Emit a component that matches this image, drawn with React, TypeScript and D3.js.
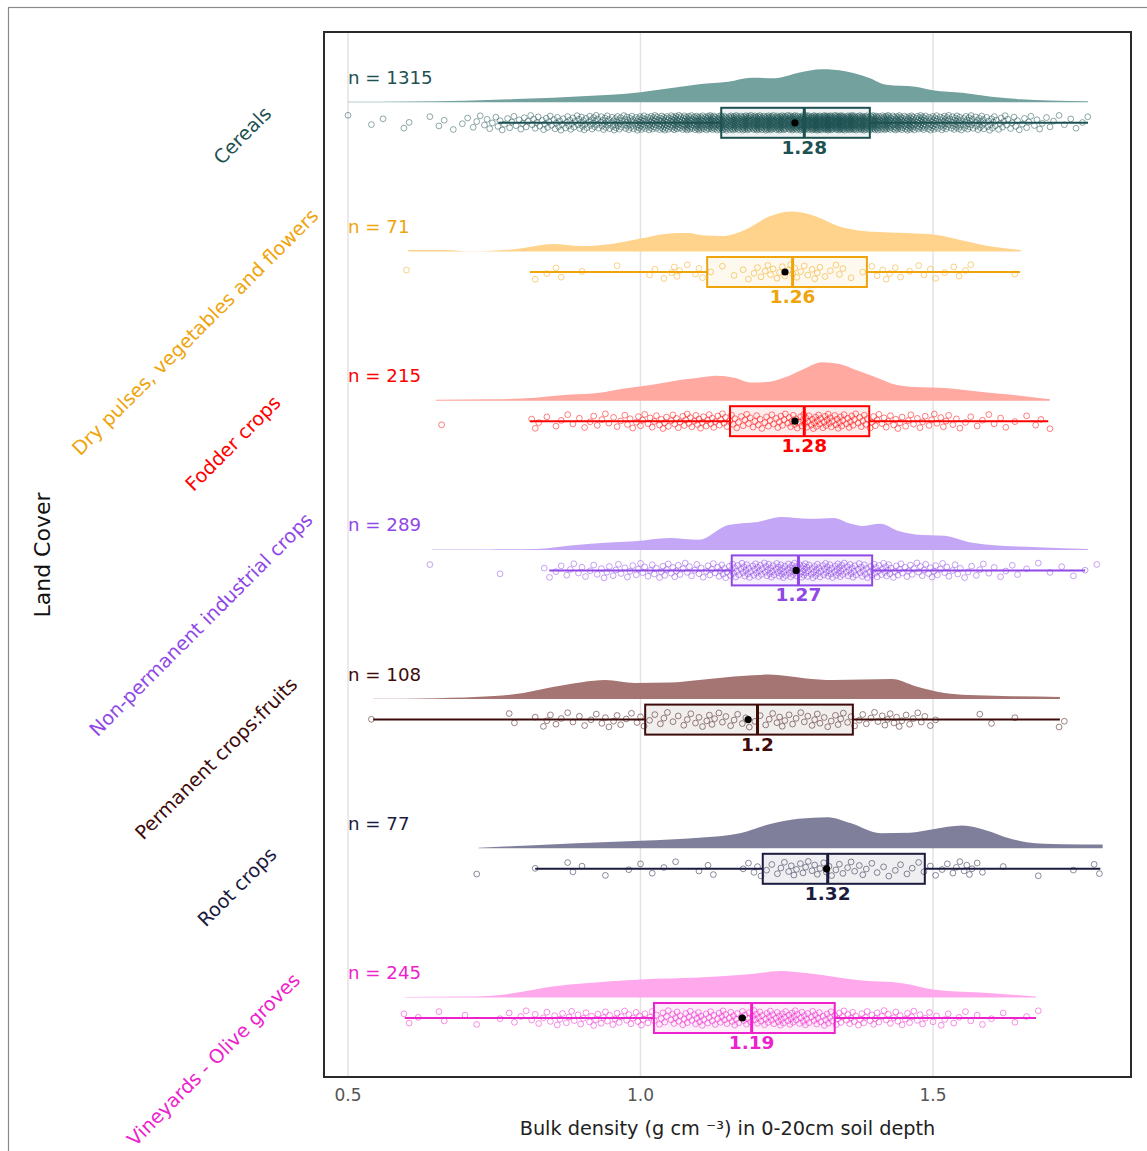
import React, { useEffect, useRef } from "react";
import * as d3 from "d3";

// Land-cover classes, top to bottom
const categories = [
  "Cereals",
  "Dry pulses, vegetables and flowers",
  "Fodder crops",
  "Non-permanent industrial crops",
  "Permanent crops:fruits",
  "Root crops",
  "Vineyards - Olive groves",
];

// Box-plot statistics (g cm-3)
const q1Values = [1.138, 1.114, 1.153, 1.156, 1.008, 1.209, 1.023];
const medianValues = [1.28, 1.26, 1.28, 1.27, 1.2, 1.32, 1.19];
const q3Values = [1.392, 1.387, 1.391, 1.396, 1.363, 1.486, 1.332];
const whiskerLow = [0.757, 0.811, 0.811, 0.844, 0.543, 0.82, 0.597];
const whiskerHigh = [1.765, 1.649, 1.697, 1.76, 1.717, 1.786, 1.676];
const meanValues = [1.264, 1.247, 1.264, 1.266, 1.184, 1.318, 1.174];

// Frequency tables of the samples: counts per 0.02 class starting at 0.50
const binStart = 0.5;
const binStep = 0.02;
const cerealsCounts = [
  1, 0, 1, 1, 0, 2, 0, 1, 2, 1, 2, 3, 4, 5, 5, 6, 7, 8, 9, 10, 12, 13, 14, 16, 17, 21, 23, 26, 29, 32, 35,
  37, 39, 41, 44, 46, 47, 48, 50, 57, 61, 63, 60, 57, 50, 44, 39, 34, 31, 27, 22, 20, 19, 16, 14, 11, 8, 6,
  5, 4, 3, 2, 2, 2,
];
const dryPulsesCounts = [
  0, 0, 0, 0, 0, 1, 0, 0, 0, 0, 0, 0, 0, 0, 0, 0, 1, 1, 2, 0, 1, 0, 0, 1, 0, 0, 2, 1, 4, 1, 3, 1, 1, 1, 2,
  3, 4, 4, 5, 3, 4, 2, 3, 1, 1, 2, 3, 2, 1, 2, 2, 1, 2, 2, 0, 0, 0, 1,
];
const fodderCounts = [
  0, 0, 0, 0, 0, 0, 0, 0, 1, 0, 0, 0, 0, 0, 0, 0, 3, 1, 2, 2, 2, 3, 3, 3, 4, 5, 5, 6, 6, 7, 7, 7, 7, 6, 6,
  6, 6, 7, 8, 10, 10, 10, 9, 8, 7, 6, 5, 5, 4, 4, 4, 4, 3, 2, 2, 2, 2, 1, 1, 2, 1,
];
const industrialCounts = [
  0, 0, 0, 0, 0, 0, 0, 1, 0, 0, 0, 0, 0, 1, 0, 0, 0, 2, 2, 3, 3, 3, 4, 4, 4, 5, 5, 6, 6, 5, 5, 6, 8, 10,
  11, 11, 12, 13, 14, 14, 12, 12, 13, 11, 10, 10, 10, 7, 6, 6, 6, 5, 4, 3, 3, 2, 2, 2, 1, 1, 1, 1, 1, 1, 1,
];
const fruitsCounts = [
  0, 0, 1, 0, 0, 0, 0, 0, 0, 0, 0, 0, 0, 0, 2, 0, 1, 3, 2, 2, 2, 2, 3, 3, 2, 3, 2, 3, 2, 3, 3, 4, 3, 3, 3,
  2, 3, 4, 3, 3, 4, 3, 4, 3, 3, 3, 4, 4, 3, 3, 2, 0, 0, 0, 1, 1, 0, 1, 0, 0, 0, 2,
];
const rootCounts = [
  0, 0, 0, 0, 0, 0, 0, 0, 0, 0, 0, 1, 0, 0, 0, 0, 1, 0, 0, 2, 1, 0, 1, 0, 1, 1, 1, 1, 1, 0, 1, 2, 0, 0, 2,
  3, 2, 3, 4, 4, 4, 4, 3, 3, 3, 2, 2, 2, 2, 2, 2, 2, 3, 4, 2, 0, 1, 0, 0, 1, 0, 0, 1, 0, 2,
];
const vineyardsCounts = [
  0, 0, 0, 0, 0, 2, 1, 0, 2, 0, 1, 1, 0, 1, 2, 2, 3, 3, 4, 4, 4, 5, 5, 5, 5, 6, 5, 6, 7, 7, 8, 7, 8, 8, 8,
  9, 9, 10, 10, 9, 8, 8, 7, 7, 6, 6, 5, 5, 5, 4, 3, 3, 2, 2, 2, 1, 1, 1, 1, 1,
];
const pointCounts = [
  cerealsCounts,
  dryPulsesCounts,
  fodderCounts,
  industrialCounts,
  fruitsCounts,
  rootCounts,
  vineyardsCounts,
];

// Kernel density estimates: [bulk density, density]
const cerealsDensity: [number, number][] = [
  [0.5, 0.03], [0.6, 0.05], [0.7, 0.09], [0.8, 0.22], [0.9, 0.38], [1.0, 0.63], [1.05, 0.88], [1.1, 1.13],
  [1.15, 1.28], [1.19, 1.53], [1.23, 1.5], [1.27, 1.84], [1.31, 2.06], [1.35, 1.94], [1.39, 1.53],
  [1.42, 1.09], [1.47, 0.97], [1.5, 0.75], [1.55, 0.59], [1.6, 0.34], [1.65, 0.19], [1.7, 0.11], [1.765, 0.06],
];
const dryPulsesDensity: [number, number][] = [
  [0.603, 0.09], [0.65, 0.09], [0.685, 0.06], [0.7, 0.01], [0.72, 0.01], [0.74, 0.03], [0.78, 0.13],
  [0.8, 0.22], [0.85, 0.47], [0.9, 0.34], [0.95, 0.47], [1.0, 0.81], [1.05, 1.13], [1.08, 1.16], [1.11, 1.0],
  [1.14, 0.97], [1.18, 1.38], [1.22, 2.19], [1.26, 2.5], [1.3, 2.19], [1.34, 1.56], [1.38, 1.28], [1.44, 1.17],
  [1.5, 1.06], [1.55, 0.69], [1.6, 0.31], [1.65, 0.09],
];
const fodderDensity: [number, number][] = [
  [0.65, 0.06], [0.75, 0.09], [0.82, 0.19], [0.88, 0.38], [0.93, 0.5], [0.97, 0.75], [1.02, 1.0], [1.07, 1.31],
  [1.1, 1.44], [1.13, 1.56], [1.16, 1.44], [1.19, 1.13], [1.22, 1.19], [1.25, 1.5], [1.28, 2.0], [1.31, 2.4],
  [1.34, 2.3], [1.37, 1.9], [1.4, 1.5], [1.44, 0.97], [1.48, 0.84], [1.52, 0.8], [1.58, 0.56], [1.63, 0.38],
  [1.7, 0.09],
];
const industrialDensity: [number, number][] = [
  [0.644, 0.02], [0.74, 0.03], [0.82, 0.06], [0.89, 0.31], [0.94, 0.44], [0.99, 0.54], [1.05, 0.75],
  [1.1, 0.64], [1.15, 1.56], [1.2, 1.75], [1.24, 2.06], [1.29, 1.94], [1.33, 2.0], [1.36, 1.63], [1.38, 1.5],
  [1.41, 1.63], [1.44, 1.19], [1.47, 0.97], [1.52, 0.88], [1.56, 0.5], [1.6, 0.31], [1.68, 0.17], [1.765, 0.06],
];
const fruitsDensity: [number, number][] = [
  [0.543, 0.02], [0.65, 0.06], [0.75, 0.19], [0.8, 0.38], [0.85, 0.75], [0.9, 1.06], [0.94, 1.19], [0.99, 1.0],
  [1.05, 1.03], [1.1, 1.19], [1.16, 1.41], [1.22, 1.53], [1.28, 1.31], [1.33, 1.19], [1.38, 1.22], [1.43, 1.25],
  [1.47, 0.81], [1.52, 0.38], [1.56, 0.25], [1.62, 0.19], [1.717, 0.13],
];
const rootDensity: [number, number][] = [
  [0.723, 0.03], [0.8, 0.16], [0.89, 0.31], [1.0, 0.47], [1.1, 0.66], [1.17, 0.94], [1.22, 1.5], [1.27, 1.84],
  [1.32, 1.94], [1.36, 1.56], [1.41, 0.94], [1.46, 0.97], [1.5, 1.19], [1.55, 1.42], [1.59, 1.13], [1.63, 0.63],
  [1.66, 0.38], [1.72, 0.25], [1.79, 0.23],
];
const vineyardsDensity: [number, number][] = [
  [0.597, 0.03], [0.7, 0.06], [0.76, 0.16], [0.8, 0.38], [0.85, 0.69], [0.9, 0.88], [1.0, 1.13], [1.1, 1.25],
  [1.19, 1.47], [1.24, 1.66], [1.29, 1.5], [1.37, 1.09], [1.45, 0.88], [1.5, 0.5], [1.58, 0.31], [1.676, 0.06],
];
const densities = [
  cerealsDensity,
  dryPulsesDensity,
  fodderDensity,
  industrialDensity,
  fruitsDensity,
  rootDensity,
  vineyardsDensity,
];

const xTicks = [0.5, 1.0, 1.5];

// Per-class palette: text / outline colour and half-violin fill
const lineColors = ["#1E5151", "#EFA40C", "#FF0000", "#9048E6", "#3E0B0B", "#1B1B3F", "#EE22CC"];
const fillColors = ["#72A19E", "#FFD38B", "#FFA9A0", "#C3A6F5", "#A57573", "#7F7F9B", "#FFA8EC"];

const FONT = "DejaVu Sans, Verdana, sans-serif";

export default function App() {
  const ref = useRef<SVGSVGElement>(null);

  useEffect(() => {
    const svg = d3.select(ref.current);
    svg.selectAll("*").remove();

    const plot = { left: 324, right: 1131, top: 32, bottom: 1077 };
    const x = d3.scaleLinear().domain([0.5, 1.5]).range([348, 933]);
    const row = d3.scalePoint<string>().domain(categories).range([102.3, 997.5]);
    const h = d3.scaleLinear().domain([0, 2.5]).range([0, 40]);
    const boxOffset = 20.5;
    const boxHalf = 15;

    // outer figure border
    svg
      .append("rect")
      .attr("x", 8.5)
      .attr("y", 7.5)
      .attr("width", 1160)
      .attr("height", 1160)
      .attr("fill", "none")
      .attr("stroke", "#8a8a8a")
      .attr("stroke-width", 1.2);

    // vertical grid
    svg
      .append("g")
      .selectAll("line")
      .data(xTicks)
      .join("line")
      .attr("x1", (d) => x(d))
      .attr("x2", (d) => x(d))
      .attr("y1", plot.top)
      .attr("y2", plot.bottom)
      .attr("stroke", "#e3e3e3")
      .attr("stroke-width", 1.5);

    categories.forEach((cat, i) => {
      const base = row(cat)!;
      const yc = base + boxOffset;
      const col = lineColors[i];
      const g = svg.append("g");

      // half violin
      const area = d3
        .area<[number, number]>()
        .x((d) => x(d[0]))
        .y0(base)
        .y1((d) => base - h(d[1]))
        .curve(d3.curveMonotoneX);
      g.append("path").attr("d", area(densities[i])!).attr("fill", fillColors[i]);

      // jittered raw observations
      const pts: { v: number; dy: number }[] = [];
      let idx = 0;
      pointCounts[i].forEach((c, k) => {
        for (let j = 0; j < c; j++) {
          const v = binStart + k * binStep + ((j + 0.5) / c - 0.5) * binStep * 0.9;
          const t = (idx * 0.6180339887 + i * 0.37) % 1;
          pts.push({ v, dy: (t - 0.5) * 15 });
          idx++;
        }
      });
      g.append("g")
        .selectAll("circle")
        .data(pts)
        .join("circle")
        .attr("cx", (d) => x(d.v))
        .attr("cy", (d) => yc + d.dy)
        .attr("r", 2.9)
        .attr("fill", "none")
        .attr("stroke", col)
        .attr("stroke-opacity", 0.5)
        .attr("stroke-width", 1);

      // whiskers
      g.append("line")
        .attr("x1", x(whiskerLow[i]))
        .attr("x2", x(q1Values[i]))
        .attr("y1", yc)
        .attr("y2", yc)
        .attr("stroke", col)
        .attr("stroke-width", 2);
      g.append("line")
        .attr("x1", x(q3Values[i]))
        .attr("x2", x(whiskerHigh[i]))
        .attr("y1", yc)
        .attr("y2", yc)
        .attr("stroke", col)
        .attr("stroke-width", 2);

      // box
      g.append("rect")
        .attr("x", x(q1Values[i]))
        .attr("y", yc - boxHalf)
        .attr("width", x(q3Values[i]) - x(q1Values[i]))
        .attr("height", boxHalf * 2)
        .attr("fill", col)
        .attr("fill-opacity", 0.07)
        .attr("stroke", col)
        .attr("stroke-width", 2);

      // median
      g.append("line")
        .attr("x1", x(medianValues[i]))
        .attr("x2", x(medianValues[i]))
        .attr("y1", yc - boxHalf)
        .attr("y2", yc + boxHalf)
        .attr("stroke", col)
        .attr("stroke-width", 3);

      // mean
      g.append("circle")
        .attr("cx", x(meanValues[i]))
        .attr("cy", yc)
        .attr("r", 3.6)
        .attr("fill", "#000");

      // median label
      g.append("text")
        .attr("x", x(medianValues[i]))
        .attr("y", yc + 31)
        .attr("text-anchor", "middle")
        .attr("font-family", FONT)
        .attr("font-weight", "bold")
        .attr("font-size", 18.5)
        .attr("fill", col)
        .text(String(medianValues[i]));

      // sample size
      g.append("text")
        .attr("x", x(0.5))
        .attr("y", base - 18.5)
        .attr("font-family", FONT)
        .attr("font-size", 18.2)
        .attr("fill", col)
        .text(`n = ${d3.sum(pointCounts[i])}`);

      // rotated category label
      const lbl = svg
        .append("text")
        .attr("font-family", FONT)
        .attr("font-size", 19.3)
        .attr("fill", col)
        .attr("dy", "0.35em")
        .text(cat);
      const len = (lbl.node() as SVGTextElement).getComputedTextLength();
      lbl.attr("x", -0.75 * len).attr("transform", `translate(255,${yc}) rotate(-45)`);
    });

    // plot frame
    svg
      .append("rect")
      .attr("x", plot.left)
      .attr("y", plot.top)
      .attr("width", plot.right - plot.left)
      .attr("height", plot.bottom - plot.top)
      .attr("fill", "none")
      .attr("stroke", "#2a2a2a")
      .attr("stroke-width", 2);

    // x tick labels
    svg
      .append("g")
      .selectAll("text")
      .data(xTicks)
      .join("text")
      .attr("x", (d) => x(d))
      .attr("y", 1101)
      .attr("text-anchor", "middle")
      .attr("font-family", FONT)
      .attr("font-size", 17)
      .attr("fill", "#555")
      .text((d) => d3.format(".1f")(d));

    // axis titles
    svg
      .append("text")
      .attr("x", (plot.left + plot.right) / 2)
      .attr("y", 1135)
      .attr("text-anchor", "middle")
      .attr("font-family", FONT)
      .attr("font-size", 19.3)
      .attr("fill", "#222")
      .text("Bulk density (g cm \u207B\u00B3) in 0-20cm soil depth");

    svg
      .append("text")
      .attr("transform", "translate(50,555) rotate(-90)")
      .attr("text-anchor", "middle")
      .attr("font-family", FONT)
      .attr("font-size", 22)
      .attr("fill", "#111")
      .text("Land Cover");
  }, []);

  return (
    <svg
      ref={ref}
      width={1147}
      height={1151}
      style={{ position: "absolute", left: 0, top: 0, background: "#fff" }}
    />
  );
}
